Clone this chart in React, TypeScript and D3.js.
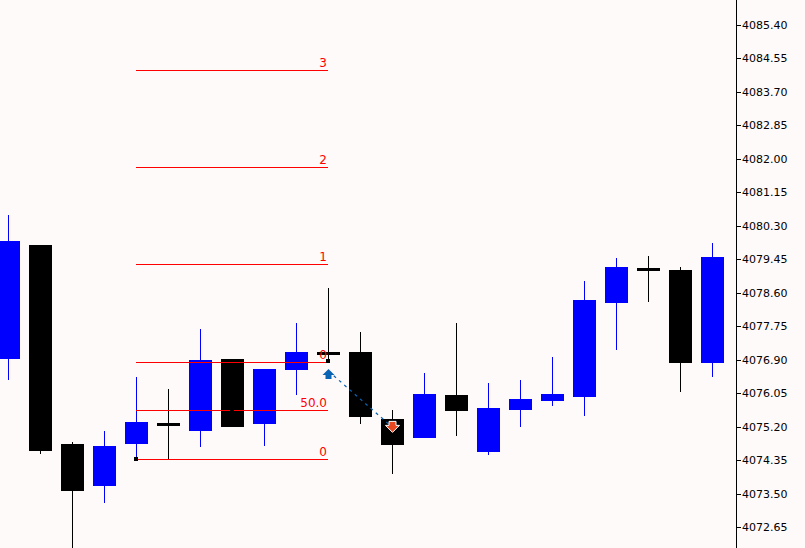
import { useEffect, useRef } from "react";
import * as d3 from "d3";

// open, high, low, close per bar
const opens = [4076.92, 4079.81, 4074.76, 4073.69, 4074.76, 4075.25, 4075.09, 4076.92, 4075.27, 4076.64, 4077.05, 4077.09, 4075.39, 4074.91, 4076.0, 4074.55, 4075.62, 4075.85, 4075.95, 4078.34, 4079.2, 4079.18, 4076.82];
const highs = [4080.57, 4079.81, 4074.81, 4075.09, 4076.46, 4076.15, 4077.68, 4076.92, 4076.66, 4077.83, 4078.72, 4077.6, 4075.62, 4076.56, 4077.83, 4076.31, 4076.38, 4076.97, 4078.9, 4079.48, 4079.53, 4079.25, 4079.86];
const lows = [4076.38, 4074.5, 4072.12, 4073.26, 4074.38, 4074.35, 4074.68, 4075.19, 4074.71, 4076.0, 4076.84, 4075.27, 4074.0, 4074.91, 4074.96, 4074.48, 4075.19, 4075.72, 4075.47, 4077.15, 4078.36, 4076.08, 4076.46];
const closes = [4079.91, 4074.58, 4073.56, 4074.71, 4075.32, 4075.25, 4076.89, 4075.19, 4076.66, 4077.09, 4077.05, 4075.44, 4074.73, 4076.03, 4075.6, 4075.67, 4075.9, 4076.03, 4078.42, 4079.25, 4079.2, 4076.82, 4079.51];

const axisTicks = [4085.4, 4084.55, 4083.7, 4082.85, 4082.0, 4081.15, 4080.3, 4079.45, 4078.6, 4077.75, 4076.9, 4076.05, 4075.2, 4074.35, 4073.5, 4072.65];

// fibonacci levels, drawn between two bars
const fibPrices = [4074.38, 4075.62, 4076.84, 4079.33, 4081.79, 4084.26];
const fibLabels = ["0", "50.0", "0", "1", "2", "3"];
const fibFrom = 4;
const fibTo = 10;

const entryBar = 10;
const entryPrice = 4076.61;
const exitBar = 12;
const exitPrice = 4075.18;

const UP = "#0000ff";
const DOWN = "#000000";
const FIB = "#ff0000";
const TRADE_BLUE = "#0a64b4";
const TRADE_RED = "#e8481f";

export default function App() {
  const axisRef = useRef<SVGGElement>(null);
  const width = 805;
  const height = 548;
  const axisX = 736;

  const x = d3.scaleLinear().domain([0, 22]).range([8, 712]);
  const y = d3.scaleLinear().domain([4085.4, 4072.65]).range([25, 527]);

  useEffect(() => {
    if (!axisRef.current) return;
    const axis = d3.axisRight(y)
      .tickValues(axisTicks)
      .tickSize(5)
      .tickPadding(1)
      .tickFormat(d => (d as number).toFixed(2));
    const g = d3.select(axisRef.current);
    g.call(axis);
    g.select(".domain").remove();
    g.selectAll(".tick line").attr("stroke", "#000").attr("shape-rendering", "crispEdges");
    g.selectAll(".tick text")
      .attr("fill", "#000")
      .attr("font-size", "11px")
      .attr("font-family", "'DejaVu Sans'");
  }, []);

  return (
    <svg
      width={width}
      height={height}
      style={{ position: "absolute", left: 0, top: 0, background: "#fffafa", display: "block" }}
    >
      <g shapeRendering="crispEdges">
        {opens.map((o, i) => {
          const c = closes[i];
          const color = c > o ? UP : DOWN;
          const top = y(Math.max(o, c));
          const h = Math.max(Math.abs(y(o) - y(c)), 3);
          return (
            <g key={i}>
              <line x1={x(i) + 0.5} x2={x(i) + 0.5} y1={y(highs[i])} y2={y(lows[i])} stroke={color} />
              <rect x={x(i) - 11} y={h === 3 ? top - 1.5 : top} width={23} height={h} fill={color} />
            </g>
          );
        })}
      </g>

      <g shapeRendering="crispEdges">
        {fibPrices.map((p, i) => (
          <line key={i} x1={x(fibFrom)} x2={x(fibTo)} y1={Math.round(y(p)) + 0.5} y2={Math.round(y(p)) + 0.5} stroke={FIB} />
        ))}
        <line x1={x(7) - 2} x2={x(7) + 2} y1={Math.round(y(fibPrices[1])) + 0.5} y2={Math.round(y(fibPrices[1])) + 0.5} stroke="#000" />
        <rect x={x(fibFrom) - 2} y={y(fibPrices[0]) - 2} width={4} height={4} fill="#000" />
        <rect x={x(fibTo) - 2} y={y(fibPrices[2]) - 3} width={4} height={4} fill="#000" />
      </g>
      {fibPrices.map((p, i) => (
        <text key={i} x={x(fibTo) - 1} y={y(p) - 3} textAnchor="end" fill={FIB} fontSize={12} fontFamily="'DejaVu Sans'">
          {fibLabels[i]}
        </text>
      ))}

      <line
        x1={x(entryBar) + 0.5}
        y1={y(entryPrice)}
        x2={x(exitBar) + 0.5}
        y2={y(exitPrice)}
        stroke={TRADE_BLUE}
        strokeWidth={1.2}
        strokeDasharray="3 4"
      />
      <path
        transform={`translate(${x(entryBar) + 0.5},${y(entryPrice)})`}
        d="M0,-2 L6,4 L3,4 L3,8 L-3,8 L-3,4 L-6,4 Z"
        fill={TRADE_BLUE}
      />
      <path
        transform={`translate(${x(exitBar) + 0.5},${y(exitPrice)})`}
        d="M0,5 L7,-2 L3.5,-2 L3.5,-6 L-3.5,-6 L-3.5,-2 L-7,-2 Z"
        fill={TRADE_RED}
        stroke="#fff"
        strokeWidth={1}
      />

      <line x1={axisX + 0.5} x2={axisX + 0.5} y1={0} y2={height} stroke="#000" shapeRendering="crispEdges" />
      <g ref={axisRef} transform={`translate(${axisX},0)`} />
    </svg>
  );
}
